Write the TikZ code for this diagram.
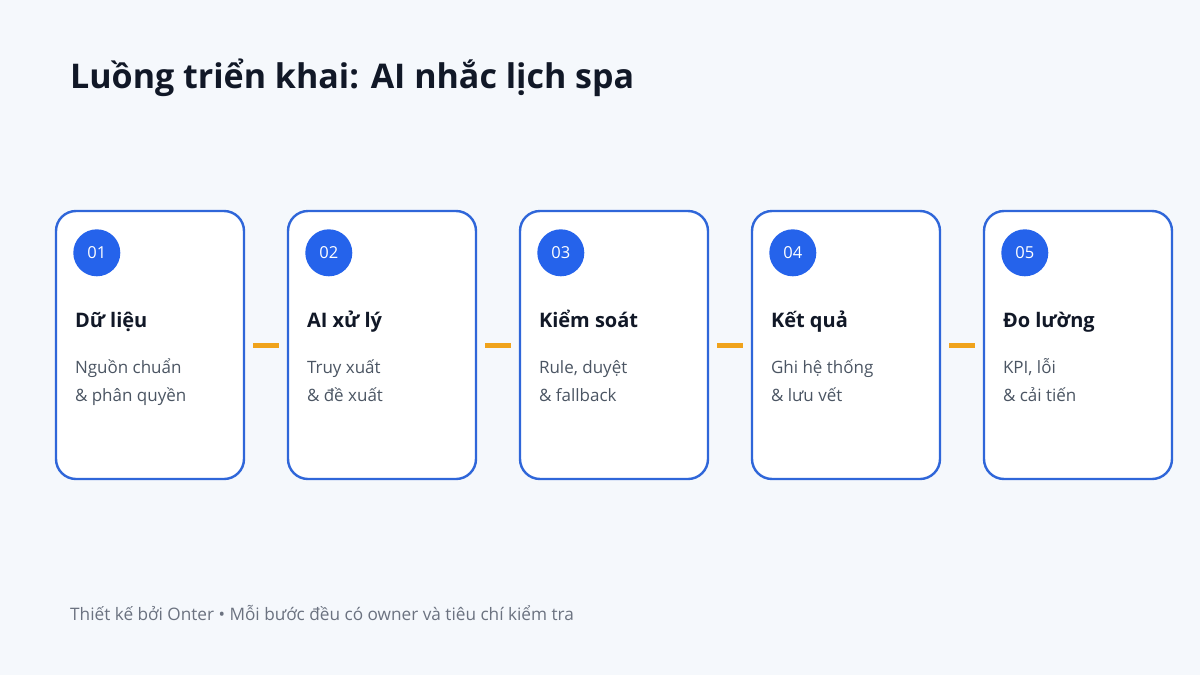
\documentclass[tikz,border=0pt]{standalone}
\usepackage{fontspec}
\setmainfont{Open Sans}
\usepackage{xcolor}
\usetikzlibrary{arrows.meta, positioning, calc}

\definecolor{pagebg}{HTML}{F5F8FC}
\definecolor{cardline}{HTML}{2F66D9}
\definecolor{badgeblue}{HTML}{2563EB}
\definecolor{linkorange}{HTML}{F0A31C}
\definecolor{titleink}{HTML}{111827}
\definecolor{subink}{HTML}{4B5563}
\definecolor{footink}{HTML}{6B7280}

\tikzset{
  card/.style={draw=cardline, line width=2.4pt, fill=white, rounded corners=20pt,
    minimum width=188pt, minimum height=268pt, inner sep=0pt},
  badge/.style={circle, fill=badgeblue, minimum size=47pt, inner sep=0pt,
    text=white, font=\fontsize{16.5}{16.5}\selectfont},
  head/.style={anchor=base west, inner sep=0pt, text=titleink,
    font=\fontsize{20}{20}\selectfont\bfseries},
  sub/.style={anchor=base west, inner sep=0pt, text=subink,
    font=\fontsize{17}{17}\selectfont},
  link/.style={draw=linkorange, line width=5pt, shorten <=8pt, shorten >=8pt}
}

\begin{document}
\begin{tikzpicture}[x=1pt, y=-1pt]

			% ----- Canvas -----
			\fill[pagebg] (0,0) rectangle (1200,675);
			\useasboundingbox (0,0) rectangle (1200,675);

			% ----- Title -----
			\node[anchor=base west, inner sep=0pt, text=titleink,
			  font=\fontsize{34}{34}\selectfont\bfseries] (title) at (70,88) {Luồng triển khai: AI nhắc lịch spa};

			% ----- Cards -----
			\node[card] (card1) at (150,345) {};
			\node[card] (card2) at (382,345) {};
			\node[card] (card3) at (614,345) {};
			\node[card] (card4) at (846,345) {};
			\node[card] (card5) at (1078,345) {};

			% Step badges
			\node[badge] (badge1) at ([shift={(42,43)}]card1.north west) {01};
			\node[badge] (badge2) at ([shift={(42,43)}]card2.north west) {02};
			\node[badge] (badge3) at ([shift={(42,43)}]card3.north west) {03};
			\node[badge] (badge4) at ([shift={(42,43)}]card4.north west) {04};
			\node[badge] (badge5) at ([shift={(42,43)}]card5.north west) {05};

			% Step headings
			\node[head] (head1) at ([shift={(20,118)}]card1.north west) {Dữ liệu};
			\node[head] (head2) at ([shift={(20,118)}]card2.north west) {AI xử lý};
			\node[head] (head3) at ([shift={(20,118)}]card3.north west) {Kiểm soát};
			\node[head] (head4) at ([shift={(20,118)}]card4.north west) {Kết quả};
			\node[head] (head5) at ([shift={(20,118)}]card5.north west) {Đo lường};

			% Step details, two lines each
			\node[sub] (sub1a) at ([shift={(20,164)}]card1.north west) {Nguồn chuẩn};
			\node[sub] (sub1b) at ([shift={(20,192)}]card1.north west) {\& phân quyền};
			\node[sub] (sub2a) at ([shift={(20,164)}]card2.north west) {Truy xuất};
			\node[sub] (sub2b) at ([shift={(20,192)}]card2.north west) {\& đề xuất};
			\node[sub] (sub3a) at ([shift={(20,164)}]card3.north west) {Rule, duyệt};
			\node[sub] (sub3b) at ([shift={(20,192)}]card3.north west) {\& fallback};
			\node[sub] (sub4a) at ([shift={(20,164)}]card4.north west) {Ghi hệ thống};
			\node[sub] (sub4b) at ([shift={(20,192)}]card4.north west) {\& lưu vết};
			\node[sub] (sub5a) at ([shift={(20,164)}]card5.north west) {KPI, lỗi};
			\node[sub] (sub5b) at ([shift={(20,192)}]card5.north west) {\& cải tiến};

			% ----- Connectors -----
			\draw[link] (card1) -- (card2);
			\draw[link] (card2) -- (card3);
			\draw[link] (card3) -- (card4);
			\draw[link] (card4) -- (card5);

			% ----- Footer -----
			\node[anchor=base west, inner sep=0pt, text=footink,
			  font=\fontsize{17.2}{17.2}\selectfont] (footer) at (70,620) {Thiết kế bởi Onter • Mỗi bước đều có owner và tiêu chí kiểm tra};

		\end{tikzpicture}
\end{document}
